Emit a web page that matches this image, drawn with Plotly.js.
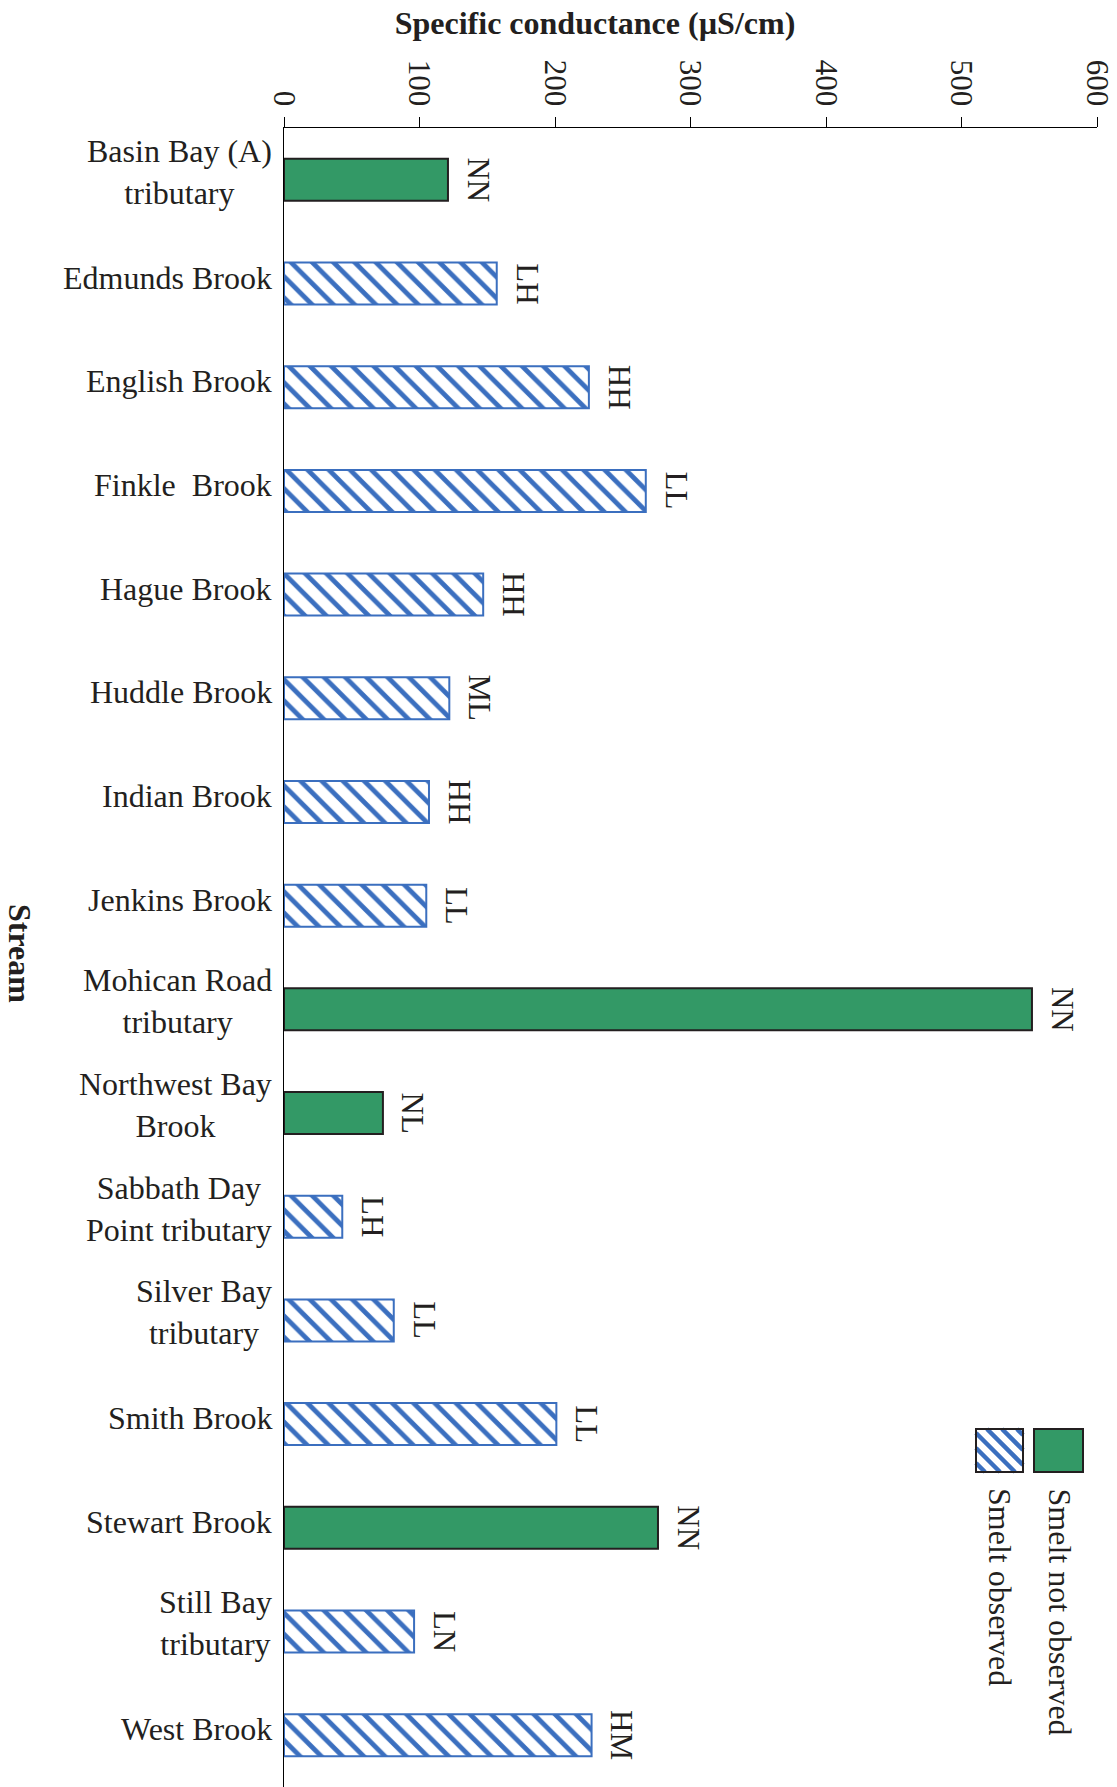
<!DOCTYPE html>
<html>
<head>
<meta charset="utf-8">
<script src="https://cdn.plot.ly/plotly-3.0.1.min.js"></script>
<style>
  html, body { margin: 0; padding: 0; background: #ffffff; }
  #chart { width: 1117px; height: 1787px; }
</style>
</head>
<body>
<div id="chart"></div>
<script>
// ---------- data ----------
const streams = [
  "Basin Bay (A)<br>tributary", "Edmunds Brook", "English Brook", "Finkle  Brook",
  "Hague Brook", "Huddle Brook", "Indian Brook", "Jenkins Brook",
  "Mohican Road<br>tributary", "Northwest Bay<br>Brook", "Sabbath Day<br>Point tributary",
  "Silver Bay<br>tributary", "Smith Brook", "Stewart Brook", "Still Bay<br>tributary", "West Brook"
];
const conductance = [121, 157, 225, 267, 147, 122, 107, 105, 552, 73, 43, 81, 201, 276, 96, 227];
const smeltObserved = [false, true, true, true, true, true, true, true, false, false, true, true, true, false, true, true];
const habitatCodes = ["NN", "LH", "HH", "LL", "HH", "ML", "HH", "LL", "NN", "NL", "LH", "LL", "LL", "NN", "LN", "HM"];
const xTickValues = [0, 100, 200, 300, 400, 500, 600];
const seriesNames = ["Smelt not observed", "Smelt observed"];
const xTitle = "Specific conductance (µS/cm)";
const yTitle = "Stream";

// ---------- style ----------
const FONT = "Liberation Serif, Times New Roman, serif";
const TXT = "#231f20";
const GREEN = "#339966";
const BLUE = "#3b6fbf";
const W = 1117, H = 1787;
const M = { l: 284, r: 20, t: 128, b: 0 };
const PW = W - M.l - M.r, PH = H - M.t - M.b;
const px = (x) => (x - M.l) / PW;          // pixel -> paper x
const py = (y) => (H - M.b - y) / PH;      // pixel -> paper y

// split data by group
const grpNot = { y: [], x: [] }, grpObs = { y: [], x: [] };
streams.forEach((s, i) => {
  const g = smeltObserved[i] ? grpObs : grpNot;
  g.y.push(s); g.x.push(conductance[i]);
});

const traces = [
  {
    type: "bar", orientation: "h", name: seriesNames[0],
    y: grpNot.y, x: grpNot.x, width: 0.405,
    marker: { color: GREEN, line: { color: TXT, width: 2 } },
    hoverinfo: "x+y"
  },
  {
    type: "bar", orientation: "h", name: seriesNames[1],
    y: grpObs.y, x: grpObs.x, width: 0.405,
    marker: {
      color: "#ffffff",
      line: { color: BLUE, width: 2 },
      pattern: { shape: "\\", fgcolor: BLUE, bgcolor: "#ffffff", size: 15, solidity: 0.32, fillmode: "replace" }
    },
    hoverinfo: "x+y"
  }
];

const annotations = [];
// category labels (centered multi-line, right edge near axis)
streams.forEach((s) => {
  const lines = s.split("<br>").length;
  annotations.push({
    xref: "paper", x: 0, xanchor: "right", xshift: -10,
    yref: "y", y: s, yanchor: "middle", yshift: lines > 1 ? 8 : 6,
    text: s, align: "center", showarrow: false,
    font: { family: FONT, size: 32, color: TXT }
  });
});
// bar-end codes
streams.forEach((s, i) => {
  annotations.push({
    xref: "x", x: conductance[i], xanchor: "left", xshift: 11,
    yref: "y", y: s, yanchor: "middle",
    text: habitatCodes[i], textangle: 90, showarrow: false,
    font: { family: FONT, size: 31, color: TXT }
  });
});
// y-axis title (reads top to bottom)
annotations.push({
  xref: "paper", x: px(20), xanchor: "center",
  yref: "paper", y: py(953), yanchor: "middle",
  text: "<b>" + yTitle + "</b>", textangle: 90, showarrow: false,
  font: { family: FONT, size: 32, color: TXT }
});
// legend texts
const legendSwatch = [
  { x0: 1034, x1: 1083, cx: 1060 },   // not observed (green)
  { x0: 976, x1: 1023, cx: 1000 }     // observed (hatched)
];
const swY0 = 1429, swY1 = 1472;
seriesNames.forEach((n, k) => {
  annotations.push({
    xref: "paper", x: px(legendSwatch[k].cx), xanchor: "center",
    yref: "paper", y: py(1486), yanchor: "top",
    text: n, textangle: 90, showarrow: false,
    font: { family: FONT, size: 32, color: TXT }
  });
});

// legend swatches
const shapes = [];
shapes.push({
  type: "rect", xref: "paper", yref: "paper", layer: "above",
  x0: px(legendSwatch[0].x0), x1: px(legendSwatch[0].x1), y0: py(swY1), y1: py(swY0),
  fillcolor: GREEN, line: { color: TXT, width: 2 }
});
shapes.push({
  type: "rect", xref: "paper", yref: "paper", layer: "above",
  x0: px(legendSwatch[1].x0), x1: px(legendSwatch[1].x1), y0: py(swY1), y1: py(swY0),
  fillcolor: "#ffffff", line: { width: 0 }
});
(function () {
  const x0 = legendSwatch[1].x0, x1 = legendSwatch[1].x1, y0 = swY0, y1 = swY1;
  let d = "";
  for (let c = (y0 - x1) + 6; c < (y1 - x0); c += 15) {
    const xa = Math.max(x0, y0 - c), xb = Math.min(x1, y1 - c);
    if (xb > xa) {
      d += "M" + px(xa) + "," + py(xa + c) + " L" + px(xb) + "," + py(xb + c) + " ";
    }
  }
  shapes.push({ type: "path", xref: "paper", yref: "paper", layer: "above", path: d, line: { color: BLUE, width: 4.5 } });
})();
shapes.push({
  type: "rect", xref: "paper", yref: "paper", layer: "above",
  x0: px(legendSwatch[1].x0), x1: px(legendSwatch[1].x1), y0: py(swY1), y1: py(swY0),
  fillcolor: "rgba(0,0,0,0)", line: { color: TXT, width: 2 }
});

const layout = {
  width: W, height: H,
  margin: M,
  paper_bgcolor: "#ffffff", plot_bgcolor: "#ffffff",
  showlegend: false,
  barmode: "overlay",
  font: { family: FONT, color: TXT },
  title: {
    text: "<b>" + xTitle + "</b>",
    xref: "container", x: 595 / W, xanchor: "center",
    yref: "container", y: 1 - 23 / H, yanchor: "middle",
    font: { family: FONT, size: 32, color: TXT }
  },
  xaxis: {
    side: "top", range: [0, 600], tickvals: xTickValues, ticktext: xTickValues.map(String),
    ticks: "outside", ticklen: 10, tickwidth: 1, tickcolor: "#000",
    tickangle: 90, showline: true, linecolor: "#000", linewidth: 1,
    showgrid: false, zeroline: false,
    tickfont: { family: FONT, size: 31, color: TXT }
  },
  yaxis: {
    type: "category", categoryorder: "array", categoryarray: streams,
    range: [streams.length - 0.5, -0.5],
    showline: true, linecolor: "#000", linewidth: 1,
    showticklabels: false, ticks: "", showgrid: false, zeroline: false
  },
  annotations: annotations,
  shapes: shapes
};

Plotly.newPlot("chart", traces, layout, { staticPlot: true, displayModeBar: false });
</script>
</body>
</html>
